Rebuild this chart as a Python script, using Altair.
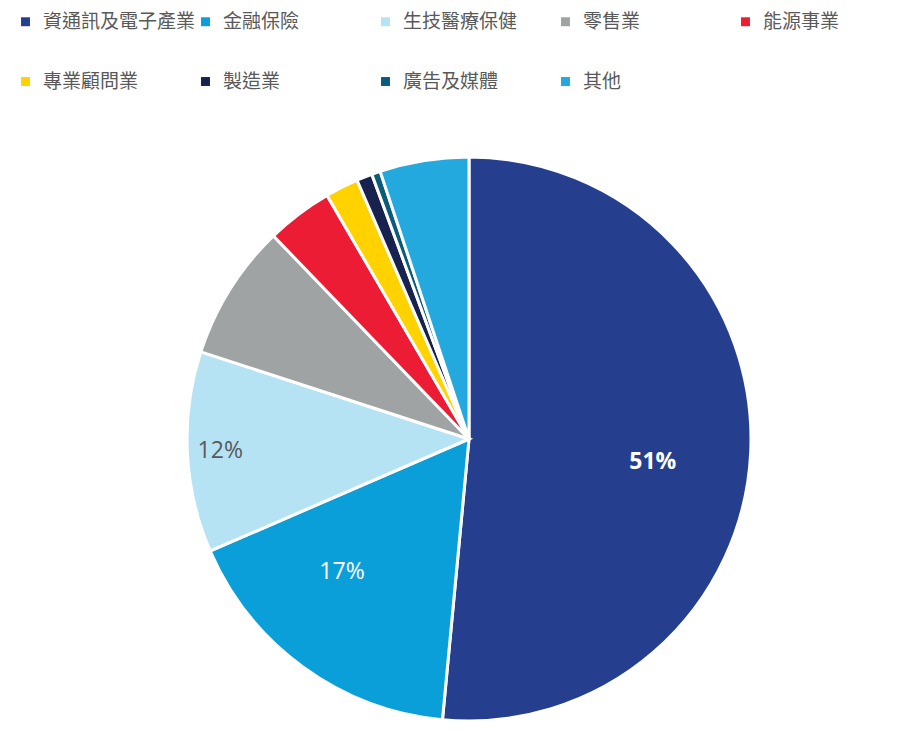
import altair as alt
import pandas as pd

categories = ["資通訊及電子產業", "金融保險", "生技醫療保健", "零售業", "能源事業",
              "專業顧問業", "製造業", "廣告及媒體", "其他"]
shares = [51.5, 17.0, 11.5, 7.8, 3.8, 1.9, 0.9, 0.5, 5.1]
labels = ["51%", "17%", "12%", "", "", "", "", "", ""]
colors = ["#253F8E", "#0B9FDA", "#B5E3F4", "#A0A3A4", "#ED1C35",
          "#FFD200", "#17224E", "#0B5C7A", "#23A9DD"]

df = pd.DataFrame({"cat": categories, "share": shares, "label": labels,
                   "order": list(range(len(categories)))})

CX, CY, R = 461, 431, 282

color = alt.Color("cat:N", sort=categories,
                  scale=alt.Scale(domain=categories, range=colors),
                  legend=alt.Legend(title=None, orient="none", legendX=8, legendY=4,
                                    direction="horizontal",
                                    columns=5, gridAlign="all", columnPadding=0,
                                    rowPadding=40, symbolType="square", symbolSize=80,
                                    symbolStrokeWidth=0, labelFontSize=19,
                                    labelFont="Noto Sans CJK TC", labelColor="#595959",
                                    labelLimit=400,
                                    symbolOffset=0, labelOffset=8))

pie = alt.Chart(df).mark_arc(outerRadius=R, stroke="white", strokeWidth=3).encode(
    theta=alt.Theta("share:Q", stack=True),
    order=alt.Order("order:Q"),
    color=color, x=alt.value(CX), y=alt.value(CY))

lbase = alt.Chart(df).transform_stack(
    stack="share", groupby=[], as_=["s0", "s1"], sort=[alt.SortField("order")]
).transform_calculate(mid="(datum.s0 + datum.s1) / 2")

theta_mid = alt.Theta("mid:Q", scale=alt.Scale(domain=[0, 100]))

lbl51 = lbase.transform_filter("datum.order == 0").mark_text(
    radius=184, dy=14, fontSize=23, font="Open Sans", fontWeight="bold", color="white").encode(
    theta=theta_mid, text="label:N", x=alt.value(CX), y=alt.value(CY))

lbl17 = lbase.transform_filter("datum.order == 1").mark_text(
    radius=182, dx=-20, dy=-14, fontSize=23, font="Open Sans", color="white").encode(
    theta=theta_mid, text="label:N", x=alt.value(CX), y=alt.value(CY))

lbl12 = lbase.transform_filter("datum.order == 2").mark_text(
    radius=249, fontSize=23, font="Open Sans", color="#595959").encode(
    theta=theta_mid, text="label:N", x=alt.value(CX), y=alt.value(CY))

chart = alt.layer(pie, lbl51, lbl17, lbl12).properties(
    width=884, height=730, padding=0, autosize="none"
).resolve_scale(theta="independent").configure_view(stroke=None)

chart.save("out.html", embed_options={"renderer": "svg", "actions": False})
